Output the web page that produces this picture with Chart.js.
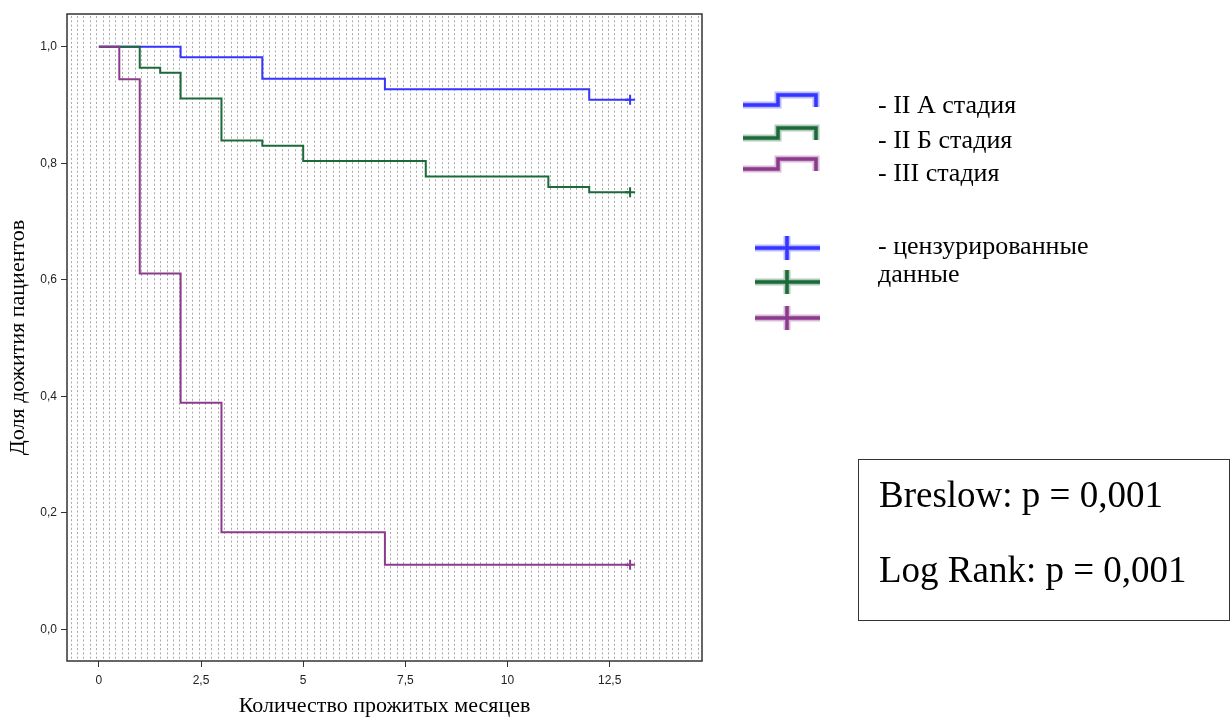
<!DOCTYPE html>
<html lang="ru">
<head>
<meta charset="utf-8">
<title>Доля дожития пациентов</title>
<script src="https://cdn.jsdelivr.net/npm/chart.js@4.4.1/dist/chart.umd.min.js"></script>
<style>
  body { margin: 0; background: #fff; }
  #wrap { position: relative; width: 1230px; height: 722px; }
  .legend-text {
    position: absolute; left: 878px;
    font: 26px "Liberation Serif", "Times New Roman", serif;
    color: #000; line-height: 1; white-space: nowrap;
  }
  #stats {
    position: absolute; left: 858px; top: 459px; width: 372px; height: 162px;
    border: 1px solid #333; box-sizing: border-box;
    font: 37px "Liberation Serif", "Times New Roman", serif; color: #000;
  }
  #stats div { position: absolute; left: 20px; line-height: 1; white-space: nowrap; }
</style>
</head>
<body>
<div id="wrap">
  <canvas id="kmChart"></canvas>
  <div class="legend-text" style="top:92px">- II А стадия</div>
  <div class="legend-text" style="top:127px">- II Б стадия</div>
  <div class="legend-text" style="top:160px">- III стадия</div>
  <div class="legend-text" style="top:233px">- цензурированные</div>
  <div class="legend-text" style="top:261px">данные</div>
  <div id="stats">
    <div style="top:16px">Breslow: p = 0,001</div>
    <div style="top:91px">Log Rank: p = 0,001</div>
  </div>
</div>
<script>
// время (месяцы) и доля дожития по стадиям
const stageNames = ["II А стадия", "II Б стадия", "III стадия"];
const timesA = [0, 2, 4, 7, 12, 13];
const survA = [1, 0.982, 0.945, 0.927, 0.909, 0.909];
const timesB = [0, 1, 1.5, 2, 3, 4, 5, 8, 11, 12, 13];
const survB = [1, 0.964, 0.955, 0.911, 0.839, 0.830, 0.804, 0.777, 0.759, 0.750, 0.750];
const timesC = [0, 0.5, 1, 2, 3, 7, 13];
const survC = [1, 0.944, 0.611, 0.389, 0.167, 0.111, 0.111];

const xTickValues = [0, 2.5, 5, 7.5, 10, 12.5];
const xTickLabels = ["0", "2,5", "5", "7,5", "10", "12,5"];
const yTickValues = [0, 0.2, 0.4, 0.6, 0.8, 1.0];
const yTickLabels = ["0,0", "0,2", "0,4", "0,6", "0,8", "1,0"];

const seriesColors = ["#3535ff", "#1c6a3a", "#8c3a8c"];

function toPoints(times, surv) {
  return times.map((t, i) => ({ x: t, y: surv[i] }));
}

// крестик (цензурированные данные) только на последней точке
function censorRadius(times) {
  return times.map((t, i) => (i === times.length - 1 ? 5 : 0));
}

function makeDataset(i, times, surv) {
  return {
    label: stageNames[i],
    data: toPoints(times, surv),
    borderColor: seriesColors[i],
    backgroundColor: seriesColors[i],
    borderWidth: 2,
    stepped: true,
    fill: false,
    pointStyle: "cross",
    pointRadius: censorRadius(times),
    pointHoverRadius: censorRadius(times),
    pointBorderWidth: 2,
    order: 3 - i,
  };
}

// фон с точечной штриховкой и рамка области графика
const plotFrame = {
  id: "plotFrame",
  beforeDatasetsDraw(chart) {
    const { ctx, chartArea: a } = chart;
    ctx.save();
    ctx.strokeStyle = "rgba(110,110,110,0.6)";
    ctx.lineWidth = 1;
    ctx.setLineDash([2, 2.3]);
    for (let x = a.left + 3.5; x < a.right - 1; x += 6.4) {
      ctx.beginPath();
      ctx.moveTo(Math.round(x) + 0.5, a.top + 2);
      ctx.lineTo(Math.round(x) + 0.5, a.bottom - 1);
      ctx.stroke();
    }
    ctx.restore();
  },
  afterDraw(chart) {
    const { ctx, chartArea: a } = chart;
    ctx.save();
    ctx.strokeStyle = "#333";
    ctx.lineWidth = 1.5;
    ctx.strokeRect(a.left, a.top, a.right - a.left, a.bottom - a.top);
    ctx.restore();
  },
};

// значки легенды: ступеньки и крестики
const legendIcons = {
  id: "legendIcons",
  afterDraw(chart) {
    const ctx = chart.ctx;
    const rows = [105, 138, 169];
    const crosses = [248, 282, 318];
    ctx.save();
    seriesColors.forEach((c, i) => {
      const y = rows[i];
      [[7, 0.35], [3.5, 1]].forEach(([w, alpha]) => {
        ctx.globalAlpha = alpha;
        ctx.strokeStyle = c;
        ctx.lineWidth = w;
        ctx.beginPath();
        ctx.moveTo(743, y);
        ctx.lineTo(778, y);
        ctx.lineTo(778, y - 10);
        ctx.lineTo(816, y - 10);
        ctx.lineTo(816, y + 2);
        ctx.stroke();

        const cy = crosses[i];
        ctx.beginPath();
        ctx.moveTo(755, cy);
        ctx.lineTo(820, cy);
        ctx.moveTo(787, cy - 12);
        ctx.lineTo(787, cy + 12);
        ctx.stroke();
      });
    });
    ctx.restore();
  },
};

const tickFont = { family: "'Liberation Sans', Arial, sans-serif", size: 12 };
const titleFont = { family: "'Liberation Serif', 'Times New Roman', serif", size: 22 };

const kmChart = new Chart(document.getElementById("kmChart"), {
  type: "line",
  data: {
    datasets: [
      makeDataset(0, timesA, survA),
      makeDataset(1, timesB, survB),
      makeDataset(2, timesC, survC),
    ],
  },
  options: {
    responsive: true,
    maintainAspectRatio: false,
    animation: false,
    layout: { padding: { left: 0, top: 14, right: 528, bottom: 0 } },
    plugins: { legend: { display: false }, tooltip: { enabled: false } },
    scales: {
      x: {
        type: "linear",
        min: -0.78,
        max: 14.76,
        afterBuildTicks: (s) => { s.ticks = xTickValues.map((v) => ({ value: v })); },
        afterFit: (s) => { s.height = 61; },
        ticks: {
          font: tickFont,
          color: "#222",
          padding: 6,
          maxRotation: 0,
          callback: (v, i) => xTickLabels[i],
        },
        grid: { drawOnChartArea: false, drawTicks: true, tickLength: 6, color: "#333" },
        border: { display: false },
        title: {
          display: true,
          text: "Количество прожитых месяцев",
          font: titleFont,
          color: "#000",
          padding: { top: 0, bottom: 3 },
        },
      },
      y: {
        type: "linear",
        min: -0.054,
        max: 1.056,
        afterBuildTicks: (s) => { s.ticks = yTickValues.map((v) => ({ value: v })); },
        afterFit: (s) => { s.width = 67; },
        ticks: {
          font: tickFont,
          color: "#222",
          padding: 4,
          callback: (v, i) => yTickLabels[i],
        },
        grid: { drawOnChartArea: false, drawTicks: true, tickLength: 6, color: "#333" },
        border: { display: false },
        title: {
          display: true,
          text: "Доля дожития пациентов",
          font: titleFont,
          color: "#000",
          padding: { top: 5, bottom: 0 },
        },
      },
    },
  },
  plugins: [plotFrame, legendIcons],
});
</script>
</body>
</html>
